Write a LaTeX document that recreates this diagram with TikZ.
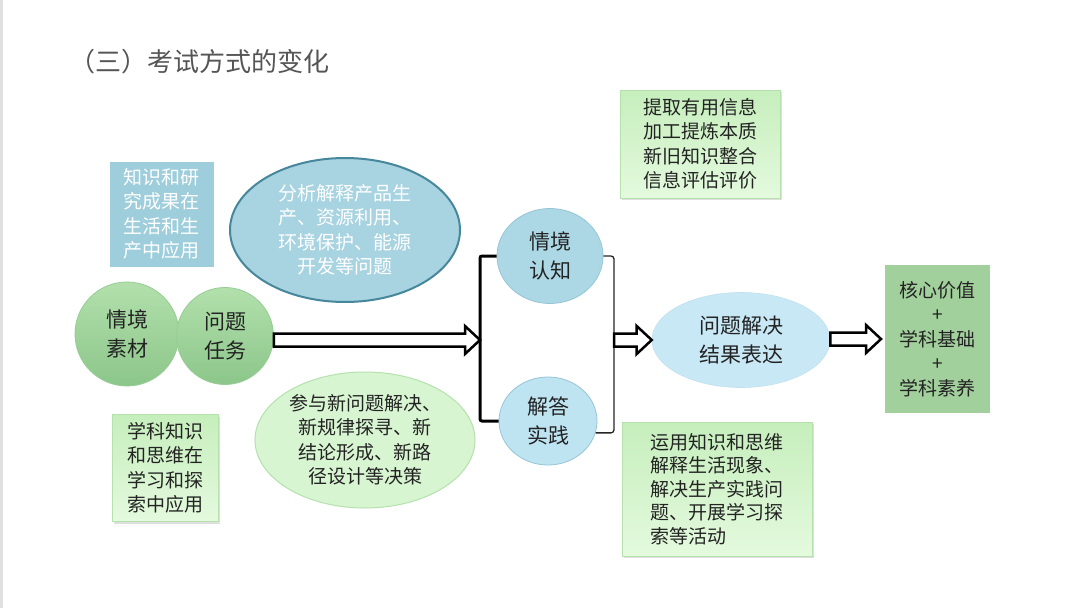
\documentclass[tikz,border=0pt]{standalone}
\usepackage{fontspec}
\setmainfont{Noto Sans CJK SC}
\usetikzlibrary{shapes.geometric,shadows,calc}
\definecolor{txt}{RGB}{35,35,35}
\definecolor{titlec}{RGB}{85,85,85}
\definecolor{boxblue}{RGB}{158,206,219}
\definecolor{ellblue}{RGB}{168,211,224}
\definecolor{ellblueedge}{RGB}{70,135,155}
\definecolor{circblue}{RGB}{172,215,229}
\definecolor{circblueb}{RGB}{190,228,242}
\definecolor{circedge}{RGB}{150,198,214}
\definecolor{solveblue}{RGB}{200,232,246}
\definecolor{greentop}{RGB}{178,224,172}
\definecolor{greenbot}{RGB}{140,198,138}
\definecolor{greenedge}{RGB}{150,205,148}
\definecolor{lgreen}{RGB}{216,245,210}
\definecolor{lgreenedge}{RGB}{180,225,172}
\definecolor{gboxtop}{RGB}{198,238,188}
\definecolor{gboxbot}{RGB}{228,250,222}
\definecolor{coregreen}{RGB}{162,208,156}
\newcommand\hollowarrow[2]{%
  \draw[hollow] let \p1=(#1), \p2=(#2) in
    (\x1,\y2+6.5pt) -- (\x2-15pt,\y2+6.5pt) -- (\x2-15pt,\y2+14pt) -- (\x2,\y2)
    -- (\x2-15pt,\y2-14pt) -- (\x2-15pt,\y2-6.5pt) -- (\x1,\y2-6.5pt) -- cycle;}
\begin{document}
\begin{tikzpicture}[x=1pt,y=-1pt,
  every node/.style={text=txt, inner sep=0pt, align=center},
  body/.style={font=\fontsize{19}{24.5}\selectfont},
  shd/.style={drop shadow={opacity=0.25, shadow xshift=2pt, shadow yshift=-2pt}},
  bluebox/.style={body, rectangle, fill=boxblue, draw=white, line width=3pt, shd, text=white},
  blueell/.style={body, ellipse, fill=ellblue, draw=ellblueedge, line width=2pt, text=white},
  greencirc/.style={circle, top color=greentop, bottom color=greenbot, draw=greenedge, line width=0.8pt, font=\fontsize{21}{29}\selectfont},
  blueball/.style={ellipse, fill=circblue, draw=circedge, line width=0.8pt, font=\fontsize{21}{29}\selectfont},
  greenell/.style={body, ellipse, fill=lgreen, draw=lgreenedge, line width=1pt},
  gbox/.style={body, rectangle, top color=gboxtop, bottom color=gboxbot, draw=lgreenedge, line width=0.8pt, shd},
  corebox/.style={body, rectangle, fill=coregreen, draw=white, line width=4pt, shd},
  hollow/.style={draw=black, fill=white, line width=2.5pt, line join=miter},
  thickbr/.style={draw=black, line width=3pt, rounded corners=2pt},
  thinbr/.style={draw=black!85, line width=1.3pt, rounded corners=3pt}
]
\useasboundingbox (0,0) rectangle (1080,608);
\fill[white] (0,0) rectangle (1080,608);
\fill[black!12] (0,0) rectangle (2.5,608);

% title
\node[anchor=west, text=titlec, font=\fontsize{26}{30}\selectfont] (title) at (69,62) {（三）考试方式的变化};

% left side
\node[bluebox, minimum width=107, minimum height=108] (kb) at (161.5,214) {知识和研\\究成果在\\生活和生\\产中应用};
\node[blueell, minimum width=230, minimum height=144] (ana) at (345,230) {分析解释产品生\\产、资源利用、\\环境保护、能源\\开发等问题};
\node[greencirc, minimum size=104] (ctx) at (127,334) {情境\\素材};
\node[greencirc, minimum size=97] (task) at (225,336) {问题\\任务};
\node[greenell, minimum width=220, minimum height=136] (part) at (365,440) {参与新问题解决、\\新规律探寻、新\\结论形成、新路\\径设计等决策};
\node[gbox, minimum width=106, minimum height=107] (sk) at (165,468) {学科知识\\和思维在\\学习和探\\索中应用};

% middle
\node[blueball, minimum width=106, minimum height=95] (sit) at (550,256) {情境\\认知};
\node[blueball, fill=circblueb, minimum width=98, minimum height=88] (ans) at (548,421) {解答\\实践};
\coordinate (brL) at (480,340);
\coordinate (brR) at (614,340);
\draw[thickbr] (sit.west) -| (brL) |- (ans.west);
\draw[thinbr] (sit.east) -| (brR) |- (ans.-14);

\node[gbox, minimum width=160, minimum height=108] (info) at (700,144) {提取有用信息\\加工提炼本质\\新旧知识整合\\信息评估评价};
\node[ellipse, fill=solveblue, draw=solveblue!85!black!20!solveblue, line width=0.6pt, minimum width=178, minimum height=95, font=\fontsize{21}{29}\selectfont] (solve) at (741,340) {问题解决\\结果表达};
\node[gbox, minimum width=190, minimum height=134, align=left, font=\fontsize{19}{23.5}\selectfont] (use) at (717,489) {运用知识和思维\\解释生活现象、\\解决生产实践问\\题、开展学习探\\索等活动};

% right
\node[corebox, minimum width=109, minimum height=152] (core) at (937.5,339) {核心价值\\+\\学科基础\\+\\学科素养};

% arrows
\hollowarrow{task.east}{brL}
\hollowarrow{brR}{solve.west}
\hollowarrow{solve.east}{core.west}
\end{tikzpicture}
\end{document}
